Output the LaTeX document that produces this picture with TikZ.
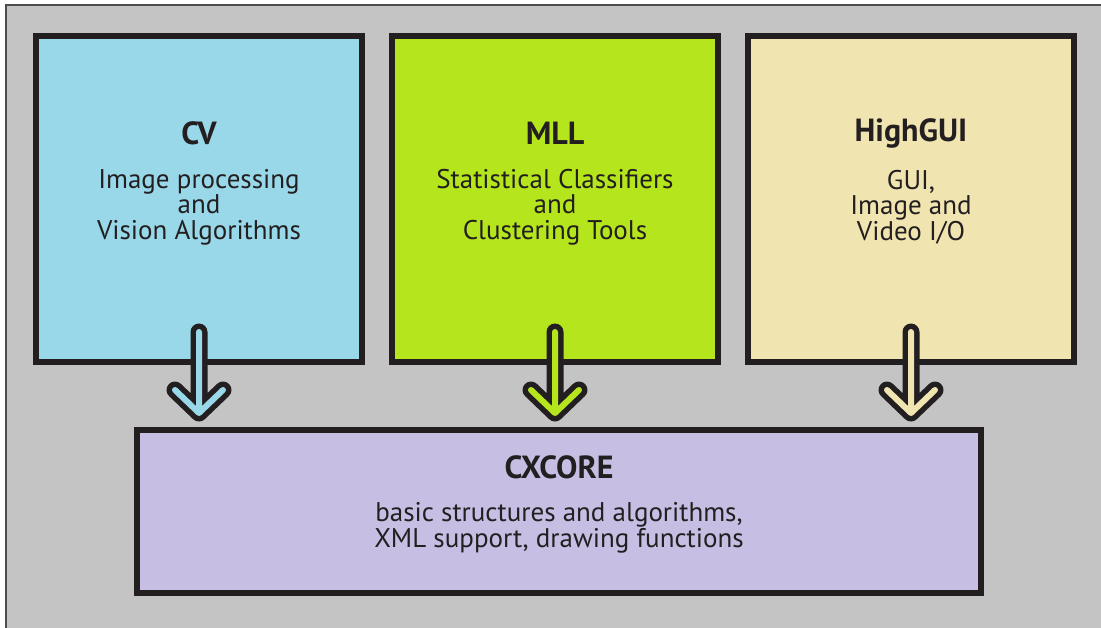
\documentclass[tikz,border=0pt]{standalone}
\usepackage{fontspec}
\setmainfont{PT Sans}
\usepackage{tikz}
\usetikzlibrary{calc, positioning}
\definecolor{bggray}{RGB}{196, 196, 196}
\definecolor{edge}{RGB}{35, 31, 32}
\definecolor{cvblue}{RGB}{153, 216, 233}
\definecolor{mllgreen}{RGB}{181, 230, 29}
\definecolor{guiyellow}{RGB}{240, 228, 176}
\definecolor{corepurple}{RGB}{199, 190, 228}
\newcommand{\bodyfont}{\fontsize{27}{25.5}\selectfont\lineskiplimit=-10pt\relax}

\begin{document}
\begin{tikzpicture}[x=1pt, y=-1pt,
    module/.style={draw=edge, line width=6pt, minimum width=326pt, minimum height=326pt, inner sep=0pt},
    title/.style={font=\fontsize{32}{36}\selectfont\bfseries, text=edge, inner sep=0pt},
    body/.style={font=\bodyfont, text=edge, align=center, inner sep=0pt},
    arrow/.style={draw=edge, line width=5.5pt, double distance=6pt, line cap=round, line join=round}]
  \useasboundingbox (0, 0) rectangle (1101, 628);
  \fill [color=bggray] (6, 5) rectangle (1101, 628);
  \draw [color=edge!80, line width=1.5pt] (6, 628) -- (6, 5) -- (1101, 5);

  \node [module, fill=cvblue] (cv) at (199, 199) {};
  \node [module, fill=mllgreen] (mll) at (555, 199) {};
  \node [module, fill=guiyellow] (gui) at (911, 199) {};
  \node [draw=edge, line width=6pt, fill=corepurple, minimum width=844pt, minimum height=163pt] (core) at (559, 511.5) {};

  \node [title] (cvtitle) at (199, 133) {CV};
  \node [body] (cvtext) at (199, 207) {Image processing\\and\\Vision Algorithms};
  \node [title] (mlltitle) at (555, 133) {MLL};
  \node [body] (mlltext) at (555, 207) {Statistical Classifiers\\and\\Clustering Tools};
  \node [title] (guititle) at (911, 133) {HighGUI};
  \node [body] (guitext) at (911, 207) {GUI,\\Image and\\Video I/O};
  \node [title] (coretitle) at (559, 467) {CXCORE};
  \node [body] (coretext) at (559, 528) {basic structures and algorithms,\\XML support, drawing functions};

  \draw [arrow, double=cvblue] ($(cv.south) + (0, -33)$) -- ($(cv.south |- core.north) + (0, -14)$) coordinate (cvtip) +(-24, -23) -- (cvtip) -- +(24, -23);
  \draw [arrow, double=mllgreen] ($(mll.south) + (0, -33)$) -- ($(mll.south |- core.north) + (0, -14)$) coordinate (mlltip) +(-24, -23) -- (mlltip) -- +(24, -23);
  \draw [arrow, double=guiyellow] ($(gui.south) + (0, -33)$) -- ($(gui.south |- core.north) + (0, -14)$) coordinate (guitip) +(-24, -23) -- (guitip) -- +(24, -23);

\end{tikzpicture}
\end{document}
